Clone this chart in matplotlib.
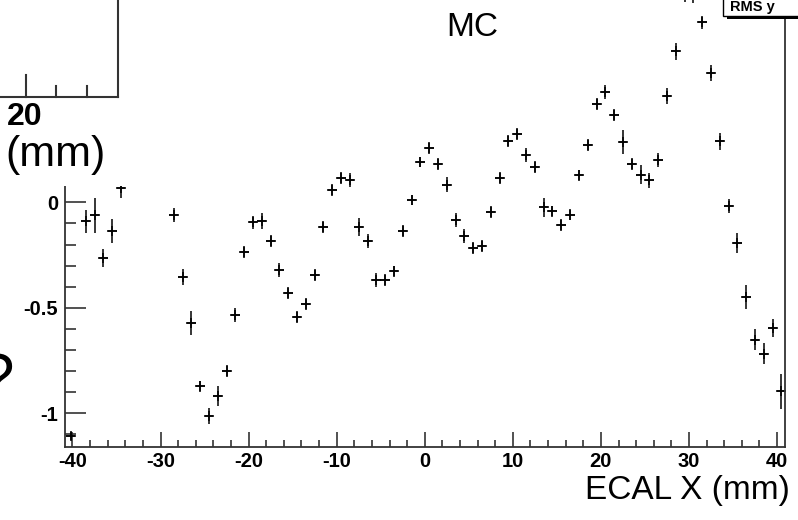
import matplotlib.pyplot as plt
from matplotlib.patches import Rectangle
from matplotlib.lines import Line2D

plt.rcParams["font.family"] = ["Liberation Sans", "DejaVu Sans"]
plt.rcParams["axes.unicode_minus"] = False

# profile points: ECAL X (mm) vs mean offset
x_mm = [-40.2, -38.5, -37.5, -36.5, -35.5, -34.5,
        -28.5, -27.5, -26.5, -25.5, -24.5, -23.5, -22.5, -21.5, -20.5,
        -19.5, -18.5, -17.5, -16.5, -15.5, -14.5, -13.5, -12.5, -11.5,
        -10.5, -9.5, -8.5, -7.5, -6.5, -5.5, -4.5, -3.5, -2.5, -1.5, -0.5,
        0.5, 1.5, 2.5, 3.5, 4.5, 5.5, 6.5, 7.5, 8.5, 9.5, 10.5, 11.5, 12.5,
        13.5, 14.5, 15.5, 16.5, 17.5, 18.5, 19.5, 20.5, 21.5, 22.5, 23.5,
        24.5, 25.5, 26.5, 27.5, 28.5, 29.5, 30.5, 31.5, 32.5, 33.5, 34.5,
        35.5, 36.5, 37.5, 38.5, 39.5, 40.5]
y_mean = [-1.11, -0.09, -0.062, -0.264, -0.134, 0.068,
          -0.062, -0.356, -0.573, -0.874, -1.016, -0.918, -0.802, -0.533, -0.234,
          -0.095, -0.09, -0.185, -0.32, -0.43, -0.546, -0.481, -0.343, -0.117,
          0.06, 0.116, 0.108, -0.117, -0.185, -0.367, -0.367, -0.328, -0.134, 0.013, 0.192,
          0.258, 0.184, 0.084, -0.082, -0.158, -0.217, -0.206, -0.044, 0.116, 0.293, 0.326, 0.226, 0.168,
          -0.024, -0.043, -0.106, -0.058, 0.128, 0.274, 0.467, 0.524, 0.416, 0.287, 0.184,
          0.131, 0.105, 0.203, 0.503, 0.717, 0.99, 0.985, 0.855, 0.614, 0.29, -0.019,
          -0.193, -0.451, -0.652, -0.718, -0.596, -0.897]
y_err = [0.02, 0.055, 0.083, 0.043, 0.057, 0.047,
         0.033, 0.038, 0.055, 0.028, 0.038, 0.047, 0.028, 0.033, 0.028,
         0.031, 0.038, 0.028, 0.033, 0.028, 0.028, 0.028, 0.028, 0.028,
         0.028, 0.028, 0.033, 0.043, 0.033, 0.033, 0.028, 0.028, 0.028, 0.024, 0.024,
         0.028, 0.028, 0.037, 0.033, 0.033, 0.028, 0.028, 0.028, 0.028, 0.028, 0.028, 0.033, 0.028,
         0.045, 0.028, 0.028, 0.028, 0.028, 0.028, 0.028, 0.031, 0.028, 0.059, 0.028,
         0.045, 0.036, 0.033, 0.038, 0.041, 0.038, 0.038, 0.031, 0.038, 0.041, 0.033,
         0.047, 0.057, 0.05, 0.05, 0.041, 0.084]
bin_half = 0.5

x_ticks = [-40, -30, -20, -10, 0, 10, 20, 30, 40]
x_labels = ["-40", "-30", "-20", "-10", "0", "10", "20", "30", "40"]
y_ticks = [-1, -0.5, 0, 0.5, 1]
y_labels = ["-1", "-0.5", "0", "0.5", "1"]

W, H = 798, 520


def fx(px):
    return px / W


def fy(py):
    return 1 - py / H


fig = plt.figure(figsize=(W / 100, H / 100), dpi=100)
ax_top = -29.3
ax_bot = 446.7
ax = fig.add_axes([fx(65), fy(ax_bot), fx(785) - fx(65), (ax_bot - ax_top) / H])

ax.errorbar(x_mm, y_mean, yerr=y_err, xerr=bin_half, fmt="+", color="black",
            ms=7.5, mew=1.1, elinewidth=1.1, capsize=0)

ax.set_xlim(-40.85, 40.9)
ax.set_ylim(-1.16, 1.1)
ax.set_xticks(x_ticks)
ax.set_xticklabels(x_labels)
ax.set_yticks(y_ticks)
ax.set_yticklabels(y_labels)
ax.set_xticks(range(-40, 41, 2), minor=True)
ax.set_yticks([v / 10 for v in range(-11, 11)], minor=True)
for lab in ax.get_xticklabels() + ax.get_yticklabels():
    lab.set_fontweight("bold")
    lab.set_fontsize(14.5)
ax.tick_params(axis="x", which="major", direction="in", length=10.8, width=1.1, pad=4,
               color="#222", labelcolor="black")
ax.tick_params(axis="x", which="minor", direction="in", length=5.2, width=1.1, color="#222")
ax.tick_params(axis="y", which="major", direction="in", length=15, width=1.1, pad=5,
               color="#222", labelcolor="black")
ax.tick_params(axis="y", which="minor", direction="in", length=8, width=1.1, color="#222")
ax.spines["top"].set_visible(False)
for s in ["left", "bottom", "right"]:
    ax.spines[s].set_linewidth(1.3)
    ax.spines[s].set_color("#333")

# overlay of the neighbouring panel in the top-left corner
fig.patches.append(Rectangle((0, fy(186)), fx(135), 1 - fy(186), transform=fig.transFigure,
                             facecolor="white", edgecolor="none", zorder=1))
lk = dict(transform=fig.transFigure, color="#333", lw=1.5, zorder=2)
fig.add_artist(Line2D([fx(0), fx(118)], [fy(97), fy(97)], **lk))
fig.add_artist(Line2D([fx(118), fx(118)], [fy(97), fy(0)], **lk))
fig.add_artist(Line2D([fx(26), fx(26)], [fy(97), fy(75)], **lk))
for tx in [56, 87]:
    fig.add_artist(Line2D([fx(tx), fx(tx)], [fy(97), fy(86)], **lk))
fig.text(fx(25), fy(117), "20", fontsize=23, fontweight="bold", ha="center", va="center", zorder=3)
fig.text(fx(5), fy(155), "(mm)", fontsize=31, ha="left", va="center", zorder=3)
fig.text(fx(14), fy(382), "?", fontsize=46, ha="right", va="center", zorder=3)

# stats box corner
fig.patches.append(Rectangle((fx(727), fy(19)), fx(90), fy(15) - fy(19), transform=fig.transFigure,
                             facecolor="black", edgecolor="none", zorder=1))
fig.patches.append(Rectangle((fx(722.5), fy(15.5)), fx(90), fy(-5) - fy(15.5), transform=fig.transFigure,
                             facecolor="white", edgecolor="black", lw=1, zorder=1))
fig.text(fx(730), fy(6.5), "RMS y", fontsize=10.5, fontweight="bold", ha="left", va="center", zorder=3)

fig.text(fx(472), fy(27), "MC", fontsize=24, ha="center", va="center")
fig.text(fx(790), fy(490), "ECAL X (mm)", fontsize=24, ha="right", va="center")

fig.savefig("out.png", dpi=100)
